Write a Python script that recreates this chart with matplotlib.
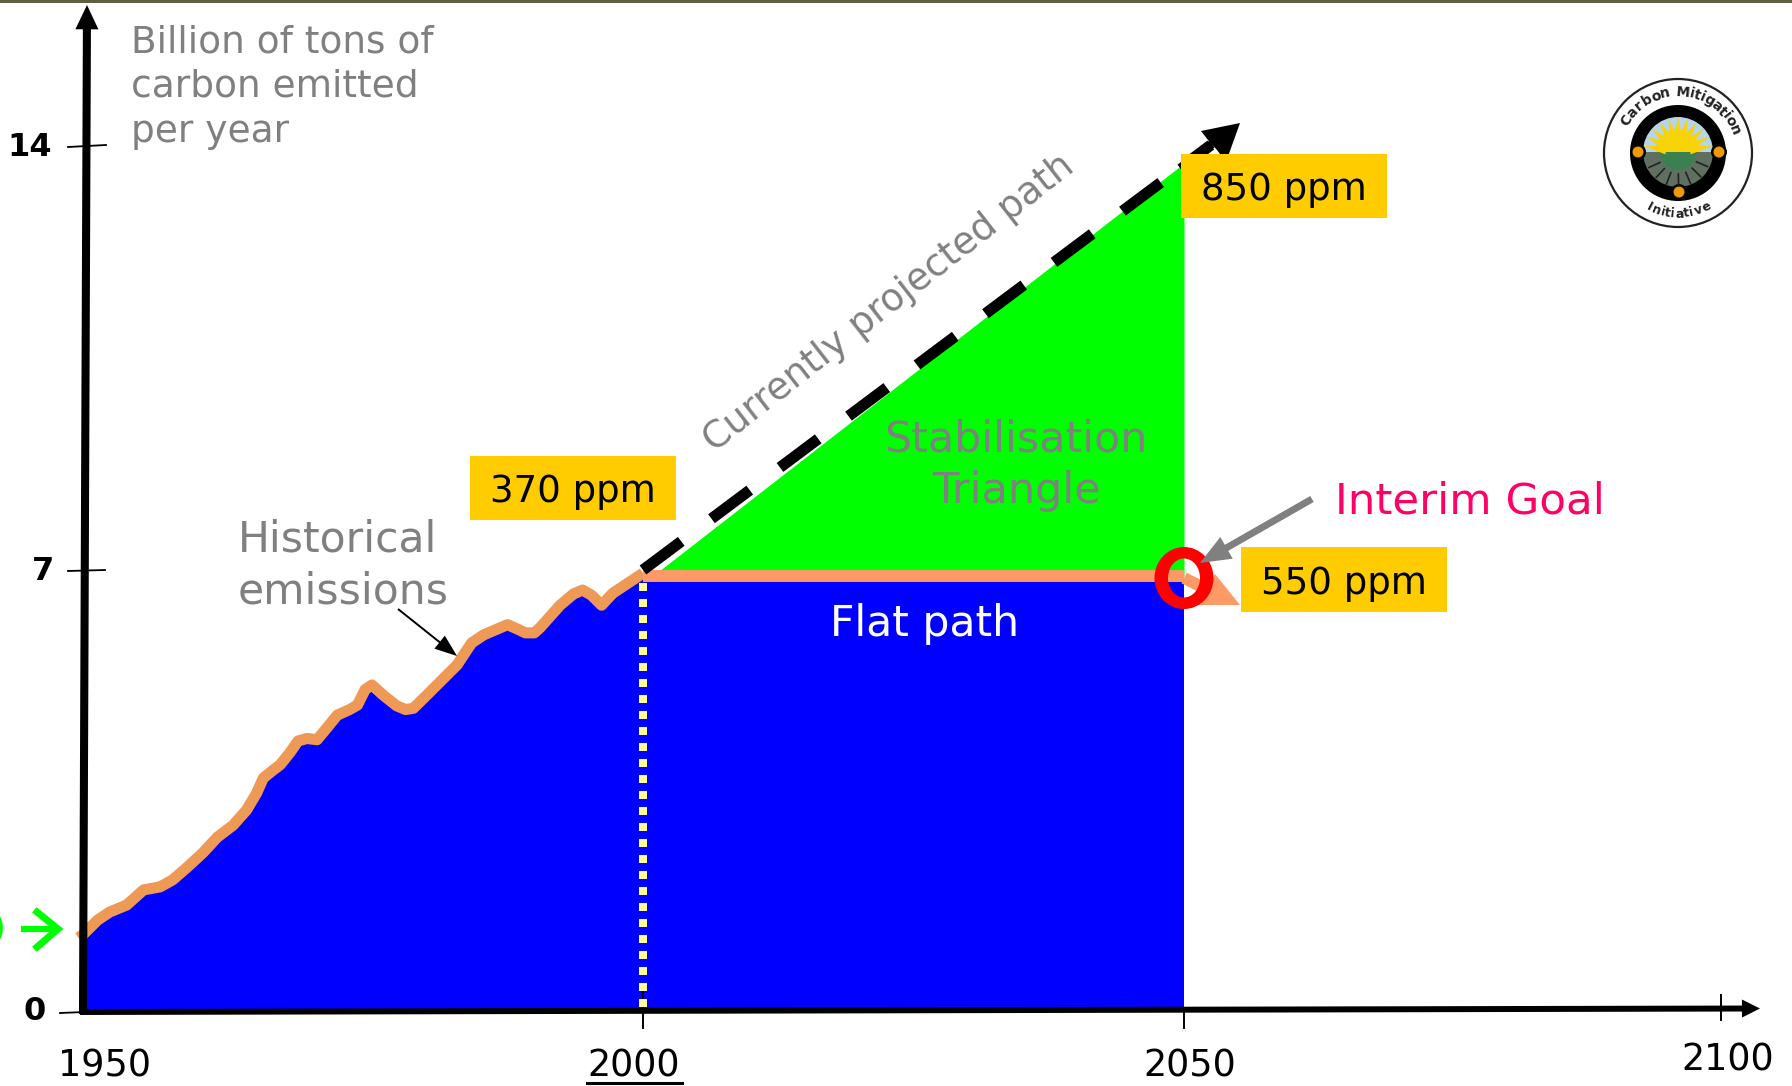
import numpy as np
import matplotlib
matplotlib.use("Agg")
import matplotlib.pyplot as plt
from matplotlib.patches import Circle, PathPatch, Polygon, Wedge, Rectangle
from matplotlib.path import Path
from matplotlib.transforms import Affine2D

# historical emissions
hist_years = [1949.6, 1950, 1950.4, 1951.3, 1952.4, 1953.9, 1955.4, 1956.9, 1958.0, 1959.3,
              1960.7, 1962.0, 1963.4, 1964.6, 1965.5, 1966.1, 1967.0, 1967.6, 1968.5, 1969.2,
              1970.0, 1970.9, 1971.6, 1972.7, 1973.8, 1974.5, 1975.2, 1975.8, 1976.8, 1978.0,
              1978.8, 1979.5, 1980.7, 1983.4, 1984.7, 1985.8, 1987.9, 1988.8, 1989.5, 1990.3,
              1990.8, 1992.6, 1993.8, 1994.6, 1995.4, 1996.3, 1997.3, 2000]
hist_values = [1.15, 1.2, 1.27, 1.43, 1.56, 1.67, 1.91, 1.96, 2.07, 2.27,
               2.50, 2.75, 2.94, 3.18, 3.45, 3.69, 3.82, 3.90, 4.10, 4.28,
               4.32, 4.30, 4.45, 4.69, 4.78, 4.85, 5.10, 5.17, 5.01, 4.84,
               4.78, 4.80, 5.01, 5.49, 5.84, 5.97, 6.13, 6.06, 6.00, 6.00,
               6.08, 6.44, 6.62, 6.68, 6.60, 6.44, 6.63, 6.95]
flat_years = [2000, 2050]
flat_values = [6.9, 6.9]
triangle_years = [2001.6, 2050]
triangle_values = [7.0, 13.7]
proj_years = [2000, 2052.5]
proj_values = [7.0, 14.0]

# axis knots: the slide is not quite linear, so years/values map to pixels piecewise
x_knots = [1942.59, 1950, 2000, 2050, 2100, 2106.5]
x_pixels = [0, 83, 643, 1184, 1721, 1792]
y_knots = [-1.209, 0, 7, 14, 16.39]
y_pixels = [0, 76, 516, 941, 1086]

W, H = 1792, 1086
GRAY = "#808080"
BLUE = "#0000FF"
GREEN = "#00FF00"
BOX = "#FFCC00"
ORANGE = "#EE9955"
FLAT = "#FF9966"

fig = plt.figure(figsize=(W / 100, H / 100), dpi=100)
ax = fig.add_axes([0, 0, 1, 1])
ax.set_xscale("function", functions=(lambda v: np.interp(v, x_knots, x_pixels),
                                     lambda v: np.interp(v, x_pixels, x_knots)))
ax.set_yscale("function", functions=(lambda v: np.interp(v, y_knots, y_pixels),
                                     lambda v: np.interp(v, y_pixels, y_knots)))
ax.set_xlim(x_knots[0], x_knots[-1])
ax.set_ylim(y_knots[0], y_knots[-1])
ax.axis("off")

# areas
ax.fill_between(hist_years[1:], 0, hist_values[1:], color=BLUE, lw=0, zorder=1)
ax.fill_between(flat_years, 0, flat_values, color=BLUE, lw=0, zorder=1)
ax.fill_between(triangle_years, 6.9, triangle_values, color=GREEN, lw=0, zorder=1)

# ticks sit under the dotted line
for year, low, high in [(2000, -0.29, 0.32), (2050, -0.29, 0.0), (2100, -0.16, 0.24)]:
    ax.plot([year, year], [low, high], color="black", lw=1.4, zorder=2)

# lines
ax.plot([2000, 2000], [6.79, 0], color="#FFFF99", lw=5.76, ls=(0, (1, 1)),
        dash_capstyle="butt", zorder=3)
ax.plot(hist_years, hist_values, color=ORANGE, lw=8, solid_joinstyle="round",
        solid_capstyle="butt", zorder=4)
ax.plot(flat_years, flat_values, color=FLAT, lw=8.6, solid_capstyle="butt", zorder=4)
ax.plot(proj_years, proj_values, color="black", lw=8, ls=(0, (4.3, 3.4)),
        dash_capstyle="butt", zorder=5)

# overlay in pixels for the hand-placed slide furniture
ov = fig.add_axes([0, 0, 1, 1], zorder=5)
ov.set_xlim(0, W)
ov.set_ylim(H, 0)
ov.axis("off")
ov.patch.set_alpha(0)


def arrow(x0, y0, x1, y1, color, width, hw, hl):
    ov.annotate("", xy=(x1, y1), xytext=(x0, y0),
                arrowprops=dict(facecolor=color, edgecolor=color, lw=0, width=width,
                                headwidth=hw, headlength=hl, shrink=0))


ov.add_patch(Rectangle((0, 0), W, 3.2, color="#5F5F42", lw=0))

# axes
arrow(83, 1014, 87, 5, "black", 5.8, 16.6, 17.5)
arrow(80, 1012, 1760, 1008.5, "black", 4.3, 13, 13)
for x0, x1, y0, y1 in [(68, 106, 147, 145), (68, 105, 571, 570), (60, 85, 1013, 1012)]:
    ov.plot([x0, x1], [y0, y1], color="black", lw=1.3)

# tail of the flat path
ov.plot([1184, 1208], [578, 590], color=FLAT, lw=8.5, solid_capstyle="butt", zorder=0.9)
ov.add_patch(Polygon([(1215, 574), (1240, 605), (1198, 605)], color=FLAT, lw=0, zorder=0.9))

# head of projected path, the box hides its lower corner
ov.plot([1180, 1212], [168, 144], color="black", lw=6, solid_capstyle="butt", zorder=0.5)
ov.add_patch(Polygon([(1240, 123), (1201, 131), (1208, 140), (1217, 150), (1226, 162)],
                     color="black", lw=0, zorder=0.5))

# the red O has thicker sides than top, so outer and inner outline are separate
outer = Path.unit_circle().transformed(Affine2D().scale(29.5, 31).translate(1184, 578))
inner = Path.unit_circle().transformed(Affine2D().scale(-16, 19.5).translate(1184, 578))
ov.add_patch(PathPatch(Path.make_compound_path(outer, inner), fc="#FF0000", lw=0, zorder=2))
arrow(1312, 499, 1200, 563, GRAY, 5, 18, 22)
arrow(398, 609, 457, 656, "black", 1.4, 12, 16)
ov.plot([21, 58], [929, 929], color=GREEN, lw=4.5, solid_capstyle="butt")
ov.plot([37, 58, 37], [912, 929, 947], color=GREEN, lw=5, solid_joinstyle="miter")
ov.text(-9, 929, ")", color=GREEN, fontsize=26, ha="left", va="center")

# boxes
for x0, y0, x1, y1, label in [(1181, 154, 1387, 218, "850 ppm"),
                              (470, 456, 676, 520, "370 ppm"),
                              (1241, 547, 1447, 612, "550 ppm")]:
    ov.add_patch(Rectangle((x0, y0), x1 - x0, y1 - y0, color=BOX, lw=0))
    ov.text((x0 + x1) / 2, (y0 + y1) / 2 + 3.5, label, fontsize=26.7, color="black",
            ha="center", va="center")

# text
for y, s in [(42.5, "Billion of tons of"), (86.5, "carbon emitted"), (131.5, "per year")]:
    ov.text(131, y, s, fontsize=27, color=GRAY, ha="left", va="center")
for x, y, s in [(52, 147, "14"), (54, 572, "7"), (46, 1012, "0")]:
    ov.text(x, y, s, fontsize=23, fontweight="bold", color="black", ha="right", va="center")
for x, y, s in [(104, 1066, "1950"), (634, 1066, "2000"), (1190, 1066, "2050"), (1728, 1060, "2100")]:
    ov.text(x, y, s, fontsize=26.3, color="black", ha="center", va="center")
ov.plot([587, 682], [1083, 1083], color="black", lw=2.2)
ov.text(238, 540, "Historical", fontsize=30.6, color=GRAY, ha="left", va="center")
ov.text(238, 591, "emissions", fontsize=30.6, color=GRAY, ha="left", va="center")
ov.text(889, 303, "Currently projected path", fontsize=27, color=GRAY, rotation=38,
        rotation_mode="anchor", ha="center", va="center")
ov.text(1016, 439, "Stabilisation", fontsize=30.8, color=GRAY, ha="center", va="center")
ov.text(1016, 491, "Triangle", fontsize=31, color=GRAY, ha="center", va="center")
ov.text(925, 624, "Flat path", fontsize=30.6, color="white", ha="center", va="center")
ov.text(1335, 502, "Interim Goal", fontsize=31.3, color="#FF0066", ha="left", va="center")

# logo
cx, cy = 1678, 153
ov.add_patch(Circle((cx, cy), 74, fc="white", ec="#222222", lw=1.6))
ov.add_patch(Circle((cx, cy), 48, fc="black", ec="none"))
ov.add_patch(Wedge((cx, cy - 1), 35, 180, 360, fc="#B5D5EA", ec="none"))
ov.add_patch(Wedge((cx, cy - 1), 35, 0, 180, fc="#5F7060", ec="none"))
for a in np.arange(205, 340, 22):
    t = np.radians(a)
    ov.plot([cx + 20 * np.cos(t), cx + 32 * np.cos(t)], [cy + 1 - 20 * np.sin(t), cy + 1 - 32 * np.sin(t)],
            color="#222222", lw=1.2)
ov.add_patch(Wedge((cx, cy - 1), 18, 0, 180, fc="#3A8050", ec="none"))
for a in np.arange(190, 360, 16):
    t = np.radians(a)
    n = np.array([-np.sin(t), np.cos(t)]) * 4.5
    p = np.array([np.cos(t), np.sin(t)])
    base = np.array([cx, cy - 1])
    ov.add_patch(Polygon([base + 12 * p + n, base + 12 * p - n, base + 35 * p], color="#F7D308", lw=0))
ov.add_patch(Wedge((cx, cy - 1), 22, 180, 360, fc="#F7D308", ec="none"))
for x, y in [(cx - 40, cy - 1), (cx + 41, cy - 1), (cx + 1, cy + 39)]:
    ov.add_patch(Circle((x, y), 8, fc="black", ec="none"))
    ov.add_patch(Circle((x, y), 5.5, fc="#EE9A00", ec="none"))


def ring_text(s, start, end, size, offset):
    # letters spread by rough width along the circle
    widths = [{"i": 0.5, "t": 0.6, "l": 0.5, " ": 0.6, "I": 0.6, "M": 1.4}.get(c, 1.0) for c in s]
    pos = np.cumsum(widths) - np.array(widths) / 2
    angles = start + (end - start) * (pos - pos[0]) / (pos[-1] - pos[0])
    for ch, a in zip(s, angles):
        t = np.radians(a)
        ov.text(cx + 61 * np.cos(t), cy - 61 * np.sin(t), ch, fontsize=size, fontweight="bold",
                color="#222222", rotation=a + offset, rotation_mode="anchor",
                ha="center", va="center")


ring_text("Carbon Mitigation", 148, 22, 10, -90)
ring_text("Initiative", 242, 298, 9, -270)

fig.savefig("out.png", dpi=100)
